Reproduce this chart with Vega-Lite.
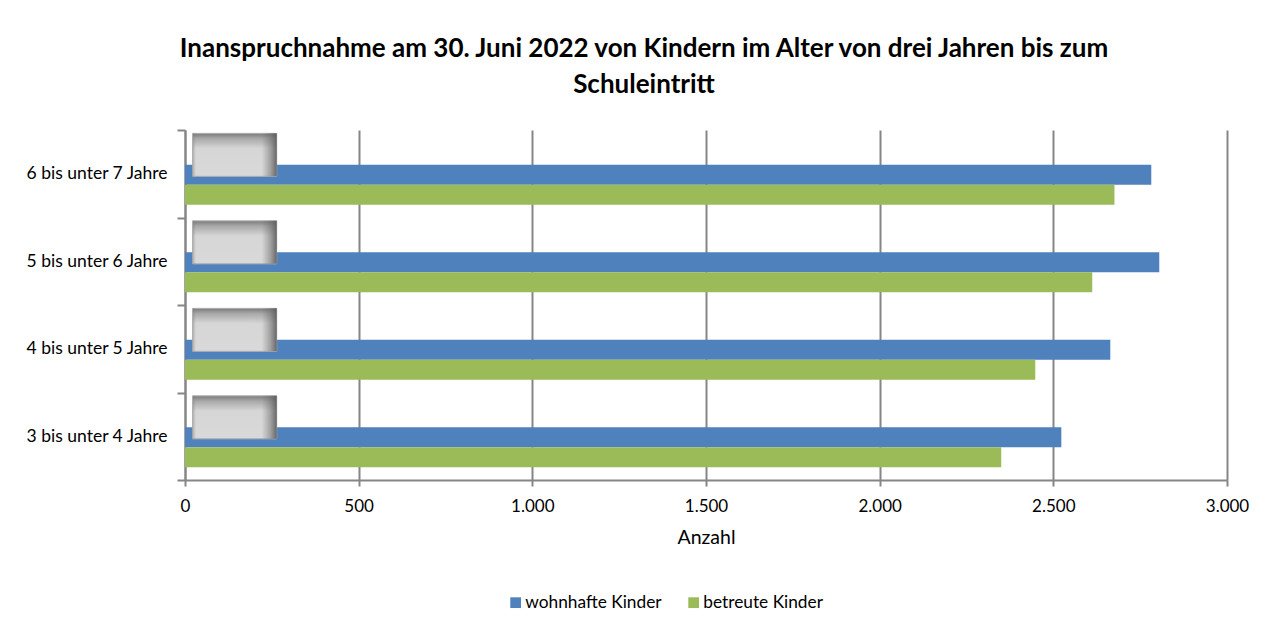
{
  "$schema": "https://vega.github.io/schema/vega-lite/v6.json",
  "autosize": {"type": "none"},
  "width": 1042,
  "height": 350,
  "padding": {"left": 185, "top": 130, "right": 39, "bottom": 150},
  "background": "white",
  "config": {
    "font": "Lato",
    "view": {"stroke": null}
  },
  "title": {
    "text": ["Inanspruchnahme am 30. Juni 2022 von Kindern im Alter von drei Jahren bis zum", "Schuleintritt"],
    "font": "Lato",
    "fontSize": 26,
    "fontWeight": "bold",
    "color": "#000000",
    "anchor": "middle",
    "frame": "group",
    "dx": -62,
    "lineHeight": 36,
    "offset": 23
  },
  "datasets": {
    "bars": [
      {"Alter": "6 bis unter 7 Jahre", "Serie": "wohnhafte Kinder", "Anzahl": 2782},
      {"Alter": "6 bis unter 7 Jahre", "Serie": "betreute Kinder", "Anzahl": 2676},
      {"Alter": "5 bis unter 6 Jahre", "Serie": "wohnhafte Kinder", "Anzahl": 2805},
      {"Alter": "5 bis unter 6 Jahre", "Serie": "betreute Kinder", "Anzahl": 2612},
      {"Alter": "4 bis unter 5 Jahre", "Serie": "wohnhafte Kinder", "Anzahl": 2664},
      {"Alter": "4 bis unter 5 Jahre", "Serie": "betreute Kinder", "Anzahl": 2448},
      {"Alter": "3 bis unter 4 Jahre", "Serie": "wohnhafte Kinder", "Anzahl": 2523},
      {"Alter": "3 bis unter 4 Jahre", "Serie": "betreute Kinder", "Anzahl": 2350}
    ],
    "boxes": [
      {"Alter": "6 bis unter 7 Jahre"},
      {"Alter": "5 bis unter 6 Jahre"},
      {"Alter": "4 bis unter 5 Jahre"},
      {"Alter": "3 bis unter 4 Jahre"}
    ]
  },
  "layer": [
    {
      "data": {"name": "bars"},
      "mark": {"type": "bar"},
      "encoding": {
        "y": {
          "field": "Alter",
          "type": "nominal",
          "sort": ["6 bis unter 7 Jahre", "5 bis unter 6 Jahre", "4 bis unter 5 Jahre", "3 bis unter 4 Jahre"],
          "scale": {"paddingInner": 0, "paddingOuter": 0},
          "axis": {
            "title": null,
            "tickBand": "extent",
            "domainColor": "#868686",
            "domainWidth": 2,
            "tickColor": "#868686",
            "tickWidth": 2,
            "tickSize": 8,
            "labelPadding": 10,
            "labelFontSize": 17.5,
            "labelColor": "#000000",
            "labelFont": "Lato",
            "grid": false
          }
        },
        "yOffset": {
          "field": "Serie",
          "type": "nominal",
          "scale": {"domain": ["label", "wohnhafte Kinder", "betreute Kinder"], "paddingInner": 0, "paddingOuter": 0.6875, "align": 0.54}
        },
        "x": {
          "field": "Anzahl",
          "type": "quantitative",
          "scale": {"domain": [0, 3000], "nice": false},
          "axis": {
            "title": "Anzahl",
            "values": [0, 500, 1000, 1500, 2000, 2500, 3000],
            "labelExpr": "replace(format(datum.value, ',.0f'), ',', '.')",
            "grid": true,
            "gridColor": "#868686",
            "gridWidth": 2,
            "domainColor": "#868686",
            "domainWidth": 2,
            "tickColor": "#868686",
            "tickWidth": 2,
            "tickSize": 6,
            "labelPadding": 12,
            "labelFontSize": 17,
            "labelColor": "#000000",
            "labelFont": "Lato",
            "labelFlush": false,
            "titleFont": "Lato",
            "titleFontSize": 19.5,
            "titleFontWeight": "normal",
            "titleColor": "#000000",
            "titlePadding": 14
          }
        },
        "color": {
          "field": "Serie",
          "type": "nominal",
          "scale": {"domain": ["wohnhafte Kinder", "betreute Kinder"], "range": ["#4f81bd", "#9bbb59"]},
          "legend": {
            "title": null,
            "orient": "none",
            "legendX": 322,
            "legendY": 464,
            "direction": "horizontal",
            "symbolType": "square",
            "symbolSize": 115,
            "symbolStrokeWidth": 0,
            "labelFontSize": 17.3,
            "labelFont": "Lato",
            "labelColor": "#000000",
            "labelOffset": 1,
            "columnPadding": 23
          }
        }
      }
    },
    {
      "data": {"name": "boxes"},
      "mark": {
        "type": "bar",
        "height": 43,
        "stroke": "#b0b0b0",
        "strokeWidth": 1,
        "fill": {
          "gradient": "linear",
          "x1": 0, "y1": 0, "x2": 0, "y2": 1,
          "stops": [
            {"offset": 0, "color": "#7a7a7a"},
            {"offset": 0.12, "color": "#a8a8a8"},
            {"offset": 0.35, "color": "#d6d6d6"},
            {"offset": 1, "color": "#d9d9d9"}
          ]
        }
      },
      "encoding": {
        "y": {"field": "Alter", "type": "nominal", "sort": ["6 bis unter 7 Jahre", "5 bis unter 6 Jahre", "4 bis unter 5 Jahre", "3 bis unter 4 Jahre"]},
        "yOffset": {"datum": "label"},
        "x": {"datum": 22, "type": "quantitative"},
        "x2": {"datum": 264}
      }
    },
    {
      "data": {"name": "boxes"},
      "mark": {
        "type": "bar",
        "height": 43,
        "fill": {
          "gradient": "linear",
          "x1": 0, "y1": 0, "x2": 1, "y2": 0,
          "stops": [
            {"offset": 0, "color": "rgba(110,110,110,0.35)"},
            {"offset": 0.04, "color": "rgba(110,110,110,0)"},
            {"offset": 0.82, "color": "rgba(110,110,110,0)"},
            {"offset": 0.93, "color": "rgba(100,100,100,0.5)"},
            {"offset": 1, "color": "rgba(90,90,90,0.9)"}
          ]
        }
      },
      "encoding": {
        "y": {"field": "Alter", "type": "nominal", "sort": ["6 bis unter 7 Jahre", "5 bis unter 6 Jahre", "4 bis unter 5 Jahre", "3 bis unter 4 Jahre"]},
        "yOffset": {"datum": "label"},
        "x": {"datum": 22, "type": "quantitative"},
        "x2": {"datum": 264}
      }
    }
  ]
}
